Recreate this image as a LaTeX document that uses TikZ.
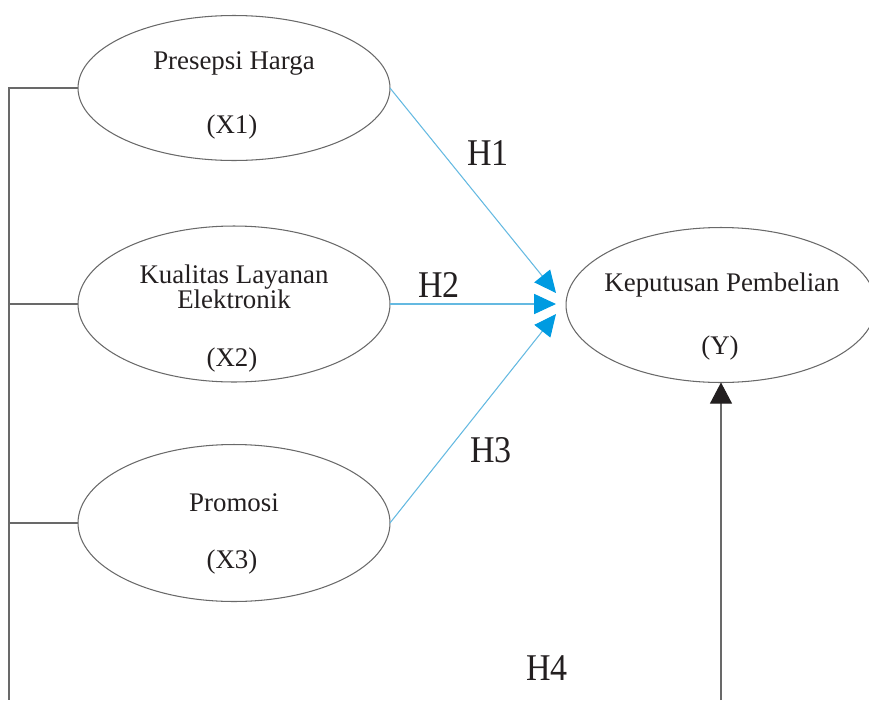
\documentclass[tikz,border=0pt]{standalone}
\usepackage{fontspec}
\setmainfont{Liberation Serif}
\newfontfamily\hypfont[FakeStretch=0.9]{Liberation Serif}
\usetikzlibrary{arrows.meta}
\usetikzlibrary{shapes.geometric}
\definecolor{myblue}{RGB}{0,155,225}
\definecolor{lineblue}{RGB}{100,185,225}
\definecolor{mygray}{RGB}{105,105,105}
\definecolor{txtdark}{RGB}{35,31,32}

\begin{document}
\begin{tikzpicture}[x=0.02cm, y=-0.02cm,
  var/.style={ellipse, draw=mygray, line width=0.6pt, minimum width=6.24cm, inner sep=0pt, outer sep=0pt},
  lbl/.style={text=txtdark, font=\rmfamily\fontsize{15.3}{14.2}\selectfont, align=center, inner sep=0pt},
  hyp/.style={text=txtdark, font=\hypfont\fontsize{21.5}{24}\selectfont, inner sep=0pt},
  hyparrow/.style={draw=lineblue, line width=0.6pt, -{Triangle[length=12.5pt, width=11.5pt, color=myblue, fill=myblue]}},
  bus/.style={draw=mygray, line width=0.6pt}]
 \useasboundingbox (0,0) rectangle (869,700);

 %variables:
 \node[var, minimum height=2.9cm] (x1) at (234,88) {};
 \node[var, minimum height=3.12cm] (x2) at (234,304) {};
 \node[var, minimum height=3.14cm] (x3) at (234,523) {};
 \node[var, minimum width=6.2cm, minimum height=3.1cm] (y) at (721,305) {};

 \node[lbl] (x1name) at (234,63) {Presepsi Harga};
 \node[lbl] (x1code) at (232,127) {(X1)};
 \node[lbl] (x2name) at (234,287) {Kualitas Layanan\\Elektronik};
 \node[lbl] (x2code) at (232,360) {(X2)};
 \node[lbl] (x3name) at (234,503) {Promosi};
 \node[lbl] (x3code) at (232,562) {(X3)};
 \node[lbl] (yname) at (722,285) {Keputusan Pembelian};
 \node[lbl] (ycode) at (720,348) {(Y)};

 %targets:
 \coordinate (t1) at (556,293);
 \coordinate (t2) at (556,304);
 \coordinate (t3) at (556,314);
 \coordinate (busend) at (9,700);
 \coordinate (h4end) at (721,700);

 %hypotheses
 \draw[hyparrow] (x1.east) -- (t1);
 \draw[hyparrow] (x2.east) -- (t2);
 \draw[hyparrow] (x3.east) -- (t3);
 \draw[draw=mygray, line width=0.6pt, -{Triangle[length=12pt, width=12.5pt, color=txtdark, fill=txtdark]}] (h4end) -- (y.south);

 %left bus
 \draw[bus] (x1.west) -| (busend);
 \draw[bus] (x2.west) -- (x2.west -| busend);
 \draw[bus] (x3.west) -- (x3.west -| busend);

 \node[hyp] (h1) at (488,153) {H1};
 \node[hyp] (h2) at (439,285) {H2};
 \node[hyp] (h3) at (491,450) {H3};
 \node[hyp] (h4) at (547,668) {H4};
\end{tikzpicture}
\end{document}
